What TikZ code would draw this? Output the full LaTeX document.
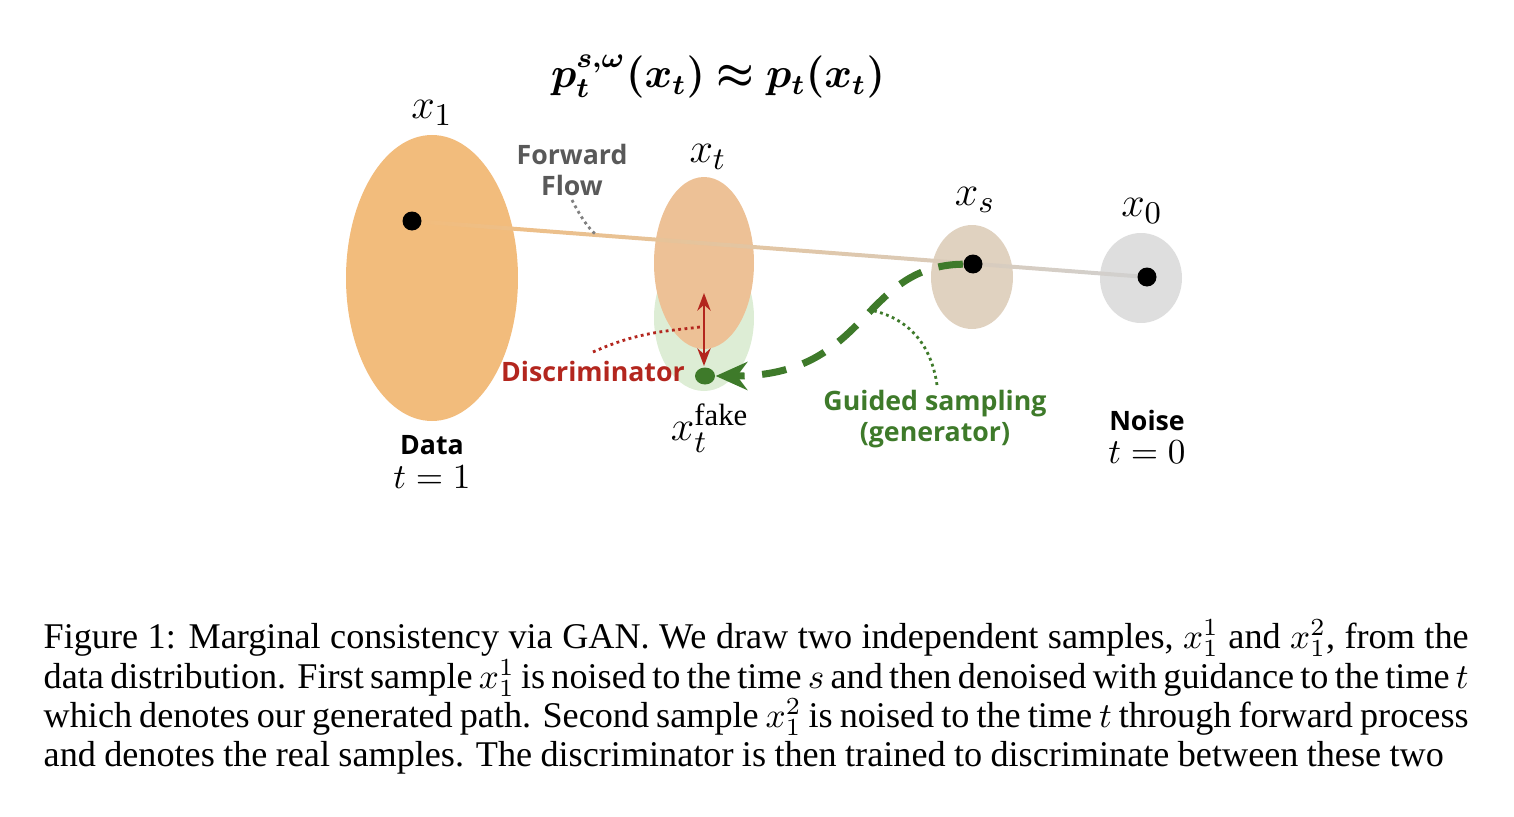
\documentclass[tikz,border=0pt]{standalone}
\usepackage{amsmath,amssymb,bm}
\usepackage{fontspec}
\setmainfont{Liberation Serif}
\newfontfamily\lblfont{Open Sans}
\usepackage{tikz}
\usetikzlibrary{shapes.geometric,arrows.meta,positioning}
\definecolor{dataorange}{HTML}{F2BC7C}
\definecolor{midorange}{HTML}{EDC196}
\definecolor{fakegreen}{HTML}{DDEDD5}
\definecolor{sbrown}{HTML}{E0D2C0}
\definecolor{noisegray}{HTML}{DEDEDE}
\definecolor{guidegreen}{HTML}{3E7A2A}
\definecolor{discred}{HTML}{B3261E}
\tikzset{
  blob/.style={ellipse, draw=none, inner sep=0pt},
  dot/.style={circle, fill=black, minimum size=0.19cm, inner sep=0pt},
  mathlbl/.style={font=\fontsize{12.5}{14}\selectfont},
  lbl/.style={font=\lblfont\bfseries\fontsize{7.6}{8.6}\selectfont, align=center},
  capline/.style={anchor=base west, inner sep=0pt, font=\fontsize{10.3}{11}\selectfont}
}
\begin{document}
\begin{tikzpicture}
\useasboundingbox (0,0) rectangle (15.14,8.16);

% Title
\node[font=\fontsize{11.8}{14}\selectfont] (title) at (7.18,7.39) {$\bm{p_t^{s,\omega}(x_t)\approx p_t(x_t)}$};

% Distributions
\node[blob, fill=dataorange, minimum width=1.72cm, minimum height=2.86cm] (data) at (4.32,5.38) {};
\node[blob, fill=fakegreen, minimum width=1.0cm, minimum height=1.46cm] (fake) at (7.04,4.98) {};
\node[blob, fill=midorange, minimum width=1.0cm, minimum height=1.72cm] (mid) at (7.04,5.53) {};
\node[blob, fill=sbrown, minimum width=0.82cm, minimum height=1.04cm] (xsb) at (9.72,5.39) {};
\node[blob, fill=noisegray, minimum width=0.82cm, minimum height=0.90cm] (noise) at (11.41,5.38) {};

% Forward flow line
\shade[left color=dataorange, right color=noisegray!80!black!60]
  (4.12,5.97) -- (11.47,5.41) -- (11.47,5.37) -- (4.12,5.93) -- cycle;

% Dots
\node[dot] (d1) at (4.12,5.95) {};
\node[dot] (ds) at (9.73,5.52) {};
\node[dot] (d0) at (11.47,5.39) {};
\node[ellipse, fill=guidegreen, minimum width=0.2cm, minimum height=0.17cm, inner sep=0pt] (dfake) at (7.05,4.40) {};
\coordinate (dtop) at (7.04,5.23);
\coordinate (dbot) at (7.04,4.50);

% Math labels
\node[mathlbl] (x1) at (4.32,7.03) {$x_1$};
\node[mathlbl] (xt) at (7.08,6.59) {$x_t$};
\node[mathlbl] (xs) at (9.75,6.16) {$x_s$};
\node[mathlbl] (x0) at (11.42,6.05) {$x_0$};
\node[mathlbl] (xfake) at (7.10,3.88) {$x_t^{\text{fake}}$};

% Text labels
\node[lbl, text=black!65] (fwd) at (5.72,6.46) {Forward\\Flow};
\node[lbl, text=discred] (disc) at (5.93,4.45) {Discriminator};
\node[lbl, text=guidegreen] (guide) at (9.35,3.97) {Guided sampling\\(generator)};
\node[lbl] (datal) at (4.32,3.71) {Data};
\node[font=\fontsize{10}{12}\selectfont] (t1) at (4.32,3.39) {$t=1$};
\node[lbl] (noisel) at (11.47,3.96) {Noise};
\node[font=\fontsize{10}{12}\selectfont] (t0) at (11.47,3.64) {$t=0$};

% Connectors
\draw[discred, thick, {Stealth[length=5pt]}-{Stealth[length=5pt]}] (dtop) -- (dbot);
\draw[guidegreen, line width=2pt, dash pattern=on 7pt off 5pt, -{Stealth[length=9pt,width=8pt]}]
  (ds) .. controls (8.6,5.5) and (8.7,4.4) .. (dfake);
\draw[black!50, densely dotted, thick] (5.72,6.16) .. controls (5.8,6.0) and (5.9,5.85) .. (5.97,5.81);
\draw[discred, densely dotted, thick] (5.93,4.64) .. controls (6.4,4.85) and (6.7,4.85) .. (7.00,4.89);
\draw[guidegreen, densely dotted, thick] (9.37,4.31) .. controls (9.3,4.8) and (9.0,5.0) .. (8.7,5.06);

% Caption
\node[capline] (c1) at (0.43,1.68) {\makebox[14.25cm][s]{Figure 1: Marginal consistency via GAN. We draw two independent samples, $x_1^1$ and $x_1^2$, from the}};
\node[capline] (c2) at (0.43,1.28) {\makebox[14.25cm][s]{data distribution. First sample $x_1^1$ is noised to the time $s$ and then denoised with guidance to the time $t$}};
\node[capline] (c3) at (0.43,0.89) {\makebox[14.25cm][s]{which denotes our generated path. Second sample $x_1^2$ is noised to the time $t$ through forward process}};
\node[capline] (c4) at (0.43,0.50) {\makebox[14.0cm][s]{and denotes the real samples. The discriminator is then trained to discriminate between these two}};
\end{tikzpicture}
\end{document}
